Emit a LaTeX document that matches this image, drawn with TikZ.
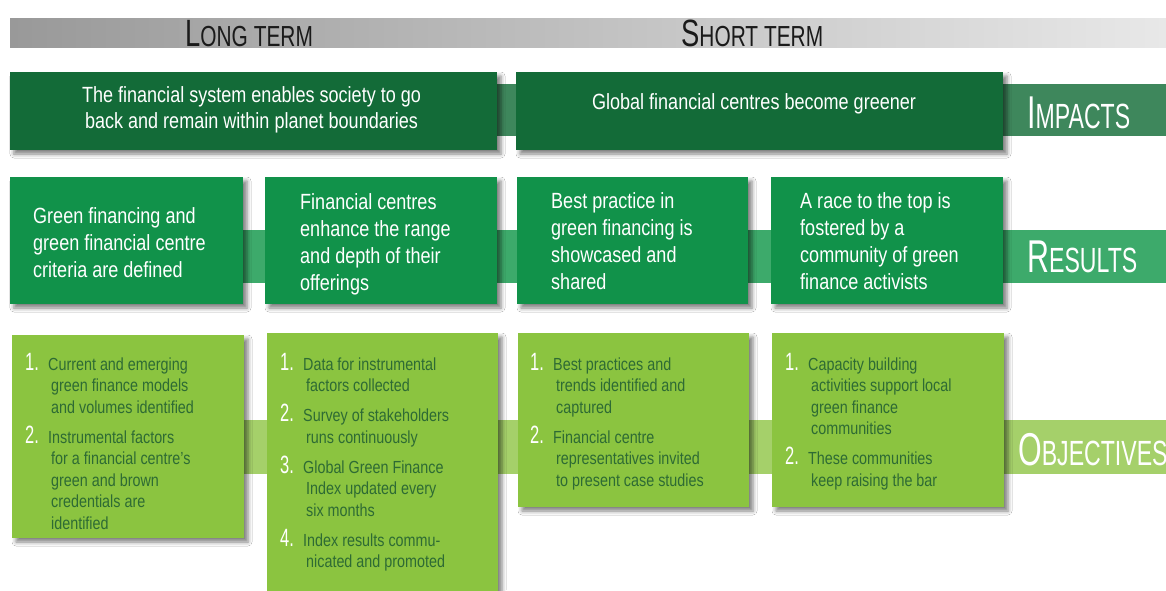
\documentclass[tikz,border=0pt]{standalone}
\usepackage{fontspec}
\setmainfont{Liberation Sans}[FakeStretch=0.82]
\newfontfamily\headfont{Liberation Sans}[FakeStretch=0.72]
\newfontfamily\labfont{Liberation Sans}[FakeStretch=0.66]
\usetikzlibrary{shadows.blur}
\definecolor{impbox}{HTML}{136B38}
\definecolor{impband}{HTML}{3E875C}
\definecolor{resbox}{HTML}{11924A}
\definecolor{resband}{HTML}{3DAA6B}
\definecolor{objbox}{HTML}{8BC440}
\definecolor{objband}{HTML}{A5D06A}
\definecolor{objtxt}{HTML}{2E6B34}
\definecolor{hdrL}{HTML}{999999}
\definecolor{hdrR}{HTML}{E8E8E8}
\definecolor{hdrtxt}{HTML}{1A1A1A}
\newcommand{\onum}[1]{\makebox[23pt][l]{\smash{\color{white}\labfont\fontsize{25}{21}\selectfont #1.}}}
\newcommand{\cl}{\hspace{3pt}}
\tikzset{
  box/.style={rectangle, inner sep=0pt, outer sep=0pt,
    blur shadow={shadow xshift=4pt, shadow yshift=-4pt, shadow blur radius=4pt, shadow opacity=50}},
  hdr/.style={anchor=base west, inner sep=0pt, text=hdrtxt},
  lab/.style={anchor=base west, inner sep=0pt, text=white},
  imptext/.style={text=white, align=center, font=\fontsize{22}{26}\selectfont},
  restext/.style={anchor=west, align=left, inner sep=0pt, text=white, font=\fontsize{22}{27}\selectfont},
  objtext/.style={anchor=north west, inner sep=0pt, text=objtxt, font=\fontsize{17.5}{21.5}\selectfont},
}
\begin{document}
\begin{tikzpicture}[x=1pt,y=-1pt]
\useasboundingbox (0,0) rectangle (1166,590);
\fill[white] (0,0) rectangle (1166,590);
% header bar
\shade[left color=hdrL, right color=hdrR] (10,18) rectangle (1166,47);
\node[hdr] (lt) at (185,46) {{\headfont\fontsize{38}{38}\selectfont L}{\headfont\fontsize{29}{29}\selectfont ONG TERM}};
\node[hdr] (st) at (681,46) {{\headfont\fontsize{38}{38}\selectfont S}{\headfont\fontsize{29}{29}\selectfont HORT TERM}};
% bands
\fill[impband] (240,84) rectangle (1166,136);
\fill[resband] (200,230) rectangle (1166,283);
\fill[objband] (200,420) rectangle (1166,474);
\node[lab] (labi) at (1027,128) {{\labfont\fontsize{46}{46}\selectfont I}{\labfont\fontsize{35}{35}\selectfont MPACTS}};
\node[lab] (labr) at (1027,272) {{\labfont\fontsize{46}{46}\selectfont R}{\labfont\fontsize{35}{35}\selectfont ESULTS}};
\node[lab] (labo) at (1018,465) {{\labfont\fontsize{46}{46}\selectfont O}{\labfont\fontsize{35}{35}\selectfont BJECTIVES}};
% impacts
\node[box, fill=impbox, minimum width=487pt, minimum height=78pt] (i1) at (253.5,111) {};
\node[box, fill=impbox, minimum width=487pt, minimum height=78pt] (i2) at (759.5,111) {};
\node[imptext] (i1t) at (251.5,110) {The financial system enables society to go\\back and remain within planet boundaries};
\node[imptext] (i2t) at (754,104) {Global financial centres become greener};
% results
\node[box, fill=resbox, minimum width=233pt, minimum height=127pt] (r1) at (126.5,240.5) {};
\node[box, fill=resbox, minimum width=232pt, minimum height=127pt] (r2) at (381,240.5) {};
\node[box, fill=resbox, minimum width=231pt, minimum height=127pt] (r3) at (632.5,240.5) {};
\node[box, fill=resbox, minimum width=232pt, minimum height=127pt] (r4) at (887,240.5) {};
\node[restext] (r1t) at (33,243) {Green financing and\\green financial centre\\criteria are defined};
\node[restext] (r2t) at (300,244) {Financial centres\\enhance the range\\and depth of their\\offerings};
\node[restext] (r3t) at (551,241) {Best practice in\\green financing is\\showcased and\\shared};
\node[restext] (r4t) at (800,241) {A race to the top is\\fostered by a\\community of green\\finance activists};
% objectives
\node[box, fill=objbox, minimum width=232pt, minimum height=203pt] (o1) at (128,436.5) {};
\node[box, fill=objbox, minimum width=231pt, minimum height=267pt] (o2) at (382.5,466.5) {};
\node[box, fill=objbox, minimum width=231pt, minimum height=174pt] (o3) at (633.5,420) {};
\node[box, fill=objbox, minimum width=232pt, minimum height=174pt] (o4) at (888,420) {};
\node[objtext] (o1t) at (25,355) {\begin{tabular}{@{}l@{}l@{}}
\onum{1} & Current and emerging\\
 & \cl green finance models\\
 & \cl and volumes identified\\[8.5pt]
\onum{2} & Instrumental factors\\
 & \cl for a financial centre’s\\
 & \cl green and brown\\
 & \cl credentials are\\
 & \cl identified
\end{tabular}};
\node[objtext] (o2t) at (280,355) {\begin{tabular}{@{}l@{}l@{}}
\onum{1} & Data for instrumental\\
 & \cl factors collected\\[8.5pt]
\onum{2} & Survey of stakeholders\\
 & \cl runs continuously\\[8.5pt]
\onum{3} & Global Green Finance\\
 & \cl Index updated every\\
 & \cl six months\\[8.5pt]
\onum{4} & Index results commu-\\
 & \cl nicated and promoted
\end{tabular}};
\node[objtext] (o3t) at (530,355) {\begin{tabular}{@{}l@{}l@{}}
\onum{1} & Best practices and\\
 & \cl trends identified and\\
 & \cl captured\\[8.5pt]
\onum{2} & Financial centre\\
 & \cl representatives invited\\
 & \cl to present case studies
\end{tabular}};
\node[objtext] (o4t) at (785,355) {\begin{tabular}{@{}l@{}l@{}}
\onum{1} & Capacity building\\
 & \cl activities support local\\
 & \cl green finance\\
 & \cl communities\\[8.5pt]
\onum{2} & These communities\\
 & \cl keep raising the bar
\end{tabular}};
\end{tikzpicture}
\end{document}
